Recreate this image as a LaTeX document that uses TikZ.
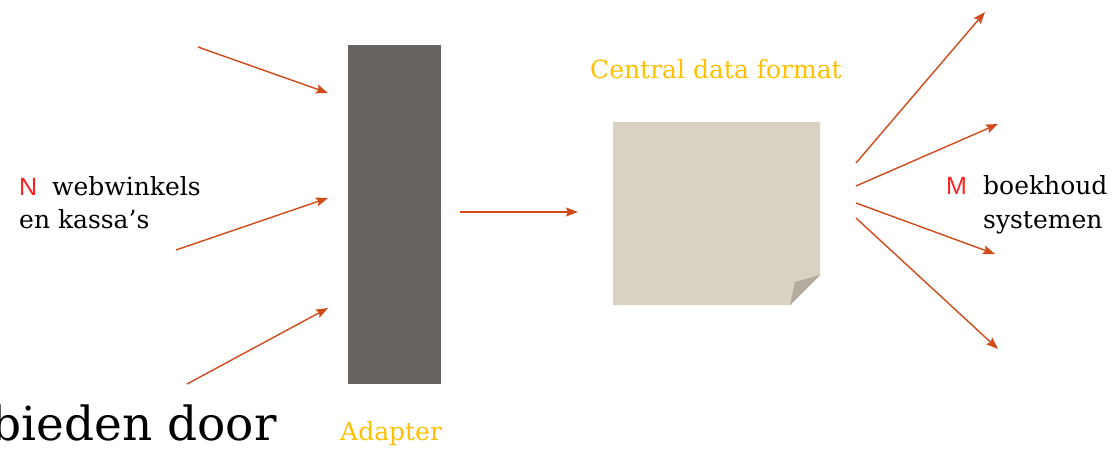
\documentclass[tikz,border=0pt]{standalone}
\usepackage{fontspec}
\setmainfont{DejaVu Serif}
\newfontfamily\thinsans{Liberation Sans}
\usetikzlibrary{arrows.meta}
\definecolor{arrowred}{HTML}{D04A1A}
\definecolor{adaptergray}{HTML}{686462}
\definecolor{paper}{HTML}{D9D2C3}
\definecolor{paperfold}{HTML}{B3AC9E}
\definecolor{gold}{HTML}{FFC000}
\definecolor{letterred}{HTML}{FF2020}
\tikzset{
  conn/.style={draw=arrowred, line width=1.4pt, -{Stealth[length=12pt,width=9pt,inset=2pt]}},
  lbl/.style={anchor=base west, inner sep=0pt, font=\fontsize{25}{28}\selectfont},
  gold lbl/.style={anchor=base west, inner sep=0pt, text=gold, font=\fontsize{25}{28}\selectfont},
  letter/.style={anchor=base west, inner sep=0pt, text=letterred, font=\thinsans\fontsize{25}{28}\selectfont},
}
\begin{document}
\begin{tikzpicture}[x=1pt,y=-1pt]
\useasboundingbox (0,0) rectangle (1119,448);
% adapter bar
\node[fill=adaptergray, minimum width=93pt, minimum height=339pt, inner sep=0pt, anchor=north west] (adapter) at (348,45) {};
% paper
\fill[paper] (613,122) -- (820,122) -- (820,275) -- (790,305) -- (613,305) -- cycle;
\fill[paperfold] (820,275) -- (795,282) -- (790,305) -- cycle;
\node[minimum width=207pt, minimum height=183pt, inner sep=0pt, anchor=north west] (paper) at (613,122) {};
% coordinates
\coordinate (s1) at (198,47);  \coordinate (t1) at (328,93);
\coordinate (s2) at (176,250); \coordinate (t2) at (328,198);
\coordinate (s3) at (187,384); \coordinate (t3) at (328,308);
\coordinate (s4) at (460,212); \coordinate (t4) at (578,212);
\coordinate (r1) at (856,163); \coordinate (e1) at (985,12);
\coordinate (r2) at (856,186); \coordinate (e2) at (998,124);
\coordinate (r3) at (856,203); \coordinate (e3) at (995,254);
\coordinate (r4) at (856,218); \coordinate (e4) at (998,349);
\draw[conn] (s1) -- (t1);
\draw[conn] (s2) -- (t2);
\draw[conn] (s3) -- (t3);
\draw[conn] (s4) -- (t4);
\draw[conn] (r1) -- (e1);
\draw[conn] (r2) -- (e2);
\draw[conn] (r3) -- (e3);
\draw[conn] (r4) -- (e4);
% texts
\node[letter] (N) at (19,195) {N};
\node[lbl] (web) at (52,195) {webwinkels};
\node[lbl] (kassa) at (19,228) {en kassa’s};
\node[letter] (M) at (946,194) {M};
\node[lbl] (boek) at (983,194) {boekhoud};
\node[lbl] (sys) at (983,228) {systemen};
\node[gold lbl] (cdf) at (590,78) {Central data format};
\node[gold lbl] (adlbl) at (340,440) {Adapter};
\node[anchor=base east, inner sep=0pt, font=\fontsize{47}{52}\selectfont] (bd) at (277,440) {bieden door};
\end{tikzpicture}
\end{document}
